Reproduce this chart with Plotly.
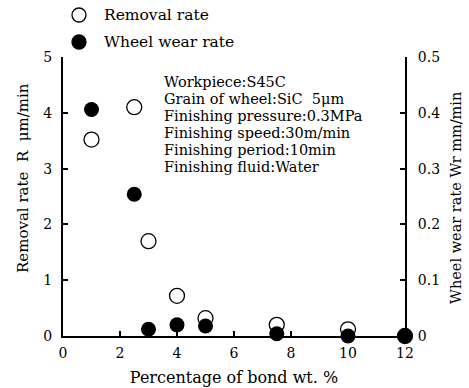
import plotly.graph_objects as go

bond_removal = [1.0, 2.5, 3.0, 4.0, 5.0, 7.5, 10.0, 12.0]
removal_rate = [3.52, 4.1, 1.7, 0.72, 0.32, 0.2, 0.12, 0.0]
bond_wear = [1.0, 2.5, 3.0, 4.0, 5.0, 7.5, 10.0, 12.0]
wear_rate = [0.406, 0.254, 0.012, 0.02, 0.018, 0.004, 0.0, 0.0]

left_ticks = [0, 1, 2, 3, 4, 5]
right_ticks = [0, 0.1, 0.2, 0.3, 0.4, 0.5]
right_tick_labels = ["0", "0.1", "0.2", "0.3", "0.4", "0.5"]
x_ticks = [0, 2, 4, 6, 8, 10, 12]

series_names = ["Removal rate", "Wheel wear rate"]

conditions = [
    "Workpiece:S45C",
    "Grain of wheel:SiC  5μm",
    "Finishing pressure:0.3MPa",
    "Finishing speed:30m/min",
    "Finishing period:10min",
    "Finishing fluid:Water",
]

FONT = "DejaVu Serif"
W, H = 469, 388
ML, MR, MT, MB = 63, 64, 57, 52
PW = W - ML - MR
PH = H - MT - MB


def px_x(p):
    return (p - ML) / PW


def px_y(p):
    return (H - MB - p) / PH


fig = go.Figure()
fig.add_trace(go.Scatter(
    x=bond_removal, y=removal_rate, mode="markers", name=series_names[0],
    marker=dict(symbol="circle-open", size=15, color="black", line=dict(width=1.3)),
    cliponaxis=False, showlegend=False,
))
fig.add_trace(go.Scatter(
    x=bond_wear, y=wear_rate, mode="markers", name=series_names[1], yaxis="y2",
    marker=dict(symbol="circle", size=15, color="black"),
    cliponaxis=False, showlegend=False,
))

# legend (key symbols + labels) drawn above the plot area
legend_rows = [(15, "open"), (42, "filled")]
for (ypix, kind), name in zip(legend_rows, series_names):
    fig.add_shape(
        type="circle", xref="paper", yref="paper",
        xsizemode="pixel", ysizemode="pixel",
        xanchor=px_x(79), yanchor=px_y(ypix),
        x0=-7, x1=7, y0=-7, y1=7,
        line=dict(color="black", width=1.3),
        fillcolor="black" if kind == "filled" else "white",
    )
    fig.add_annotation(
        xref="paper", yref="paper", x=px_x(102), y=px_y(ypix),
        xanchor="left", yanchor="middle", text=name, showarrow=False,
        font=dict(family=FONT, size=15.5, color="black"),
    )

for i, t in enumerate(conditions):
    ycen = 82 + i * 16.9
    fig.add_annotation(
        xref="paper", yref="paper", x=px_x(162), y=px_y(ycen),
        xanchor="left", yanchor="middle",
        text=t, showarrow=False, font=dict(family=FONT, size=14.5, color="black"),
    )

fig.add_annotation(xref="paper", yref="paper", x=px_x(12), y=px_y(178),
                   xanchor="left", yanchor="middle",
                   text="Removal rate  R  μm/min", textangle=-90, showarrow=False,
                   font=dict(family=FONT, size=15, color="black"))
fig.add_annotation(xref="paper", yref="paper", x=px_x(466), y=px_y(198),
                   xanchor="right", yanchor="middle",
                   text="Wheel wear rate Wr mm/min", textangle=-90, showarrow=False,
                   font=dict(family=FONT, size=14.5, color="black"))

axis_common = dict(showgrid=False, zeroline=False, showline=True, linecolor="black",
                   linewidth=2, ticks="inside", ticklen=5, tickwidth=1.5, tickcolor="black",
                   tickfont=dict(family=FONT, size=14, color="black"))

fig.update_layout(
    width=W, height=H,
    margin=dict(l=ML, r=MR, t=MT, b=MB, autoexpand=False),
    paper_bgcolor="white", plot_bgcolor="white",
    font=dict(family=FONT, color="black"),
    xaxis=dict(range=[0, 12], tickvals=x_ticks, ticklabelstandoff=3,
               title=dict(text="Percentage of bond wt. %", font=dict(size=16), standoff=12),
               **axis_common),
    yaxis=dict(range=[0, 5], tickvals=left_ticks, ticklabelstandoff=6, **axis_common),
    yaxis2=dict(range=[0, 0.5], tickvals=right_ticks, ticktext=right_tick_labels,
                overlaying="y", side="right", ticklabelstandoff=8, **axis_common),
    showlegend=False,
)
fig.write_html("out.html")
